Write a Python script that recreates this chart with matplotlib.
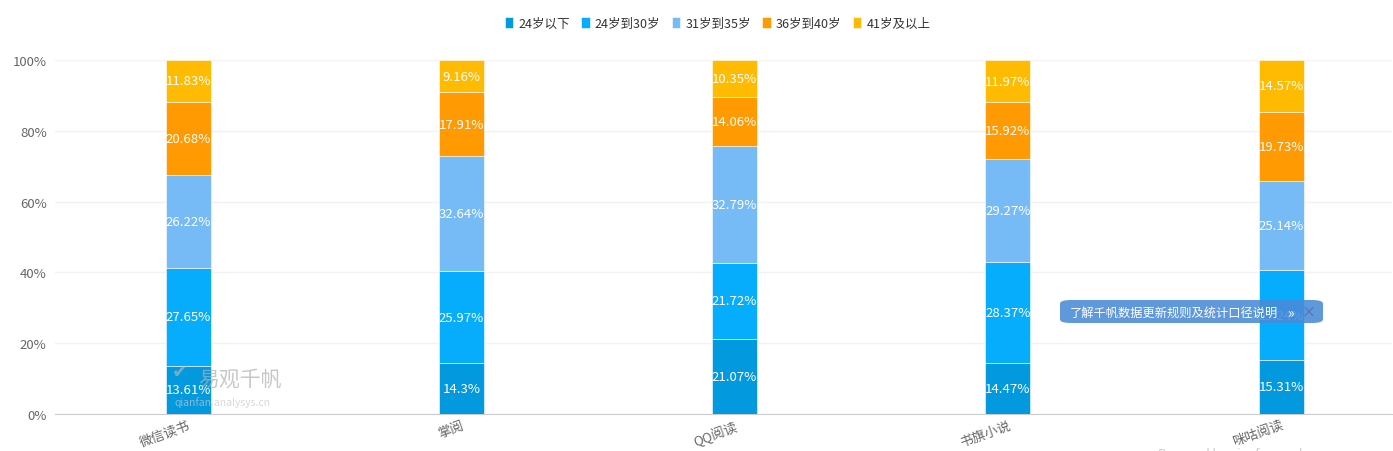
import numpy as np
import matplotlib.pyplot as plt
from matplotlib.patches import FancyBboxPatch

plt.rcParams['font.family'] = ['Noto Sans CJK SC', 'DejaVu Sans']

# Data
apps = ["微信读书", "掌阅", "QQ阅读", "书旗小说", "咪咕阅读"]
series_names = ["24岁以下", "24岁到30岁", "31岁到35岁", "36岁到40岁", "41岁及以上"]
under24 = [13.61, 14.30, 21.07, 14.47, 15.31]
age24_30 = [27.65, 25.97, 21.72, 28.37, 25.24]
age31_35 = [26.22, 32.64, 32.79, 29.27, 25.14]
age36_40 = [20.68, 17.91, 14.06, 15.92, 19.73]
over41 = [11.83, 9.16, 10.35, 11.97, 14.57]
value_labels = [
    ["13.61%", "14.3%", "21.07%", "14.47%", "15.31%"],
    ["27.65%", "25.97%", "21.72%", "28.37%", "25.24%"],
    ["26.22%", "32.64%", "32.79%", "29.27%", "25.14%"],
    ["20.68%", "17.91%", "14.06%", "15.92%", "19.73%"],
    ["11.83%", "9.16%", "10.35%", "11.97%", "14.57%"],
]
colors = ["#0399de", "#06adfd", "#76baf6", "#ff9a02", "#ffbb01"]

fig = plt.figure(figsize=(13.93, 4.52), dpi=100)
ax = fig.add_axes([55 / 1393, 1 - 415 / 452, (1392 - 55) / 1393, (415 - 61) / 452])

x = np.arange(len(apps))
all_series = [under24, age24_30, age31_35, age36_40, over41]
bottom = np.zeros(len(apps))
for i, vals in enumerate(all_series):
    vals = np.array(vals)
    ax.bar(x, vals, 0.165, bottom=bottom, color=colors[i], label=series_names[i],
           edgecolor="white", linewidth=0.4, zorder=3)
    for j in range(len(apps)):
        ax.text(x[j], bottom[j] + vals[j] / 2, value_labels[i][j], ha="center", va="center",
                color="white", fontsize=9.5, zorder=5)
    bottom = bottom + vals

ax.set_xlim(-0.487, 4.406)
ax.set_ylim(0, 100)
ax.set_yticks([0, 20, 40, 60, 80, 100])
ax.set_yticklabels(["0%", "20%", "40%", "60%", "80%", "100%"], color="#666666", fontsize=9.5)
ax.set_xticks(x)
ax.set_xticklabels(apps, rotation=20, ha="right", color="#666666", fontsize=9.5,
                   rotation_mode="anchor")
ax.tick_params(axis="y", length=0, pad=6)
ax.tick_params(axis="x", length=0, pad=3)
ax.grid(axis="y", color="#f2f2f2", linewidth=1, zorder=0)
for s in ["top", "right", "left"]:
    ax.spines[s].set_visible(False)
ax.spines["bottom"].set_color("#cccccc")

leg = fig.legend(loc="upper center", bbox_to_anchor=(0.515, 0.985), ncol=5, frameon=False,
                 fontsize=9, handlelength=0.7, handleheight=1.0, handletextpad=0.4,
                 columnspacing=0.9, labelcolor="#333333")

# watermark
fig.text(172 / 1393, 1 - 378 / 452, "✔", fontsize=14, color="#bbbbbb", alpha=0.6, zorder=10,
         family="DejaVu Sans")
fig.text(198 / 1393, 1 - 386 / 452, "易观千帆", fontsize=15, color="#b0b0b0", alpha=0.7, zorder=10)
fig.text(175 / 1393, 1 - 406 / 452, "qianfan.analysys.cn", fontsize=7.5, color="#c8c8c8", alpha=0.7, zorder=10)

# info button
btn = FancyBboxPatch((1060 / 1393, 1 - 324 / 452), 263 / 1393, 23 / 452,
                     boxstyle="round,pad=0,rounding_size=0.008", transform=fig.transFigure,
                     facecolor="#4a8ad8", alpha=0.88, edgecolor="none", zorder=20)
fig.patches.append(btn)
fig.text(1070 / 1393, 1 - 313 / 452, "了解千帆数据更新规则及统计口径说明", fontsize=8.8,
         color="white", va="center", zorder=21)
fig.text(1287 / 1393, 1 - 313 / 452, "»", fontsize=10, color="white", va="center", zorder=21)
fig.text(1302 / 1393, 1 - 313 / 452, "×", fontsize=10, color="#5570a0", va="center", zorder=21)

# cut-off footer
fig.text(1158 / 1393, 1 - 458 / 452, "Powered by qianfan.analysys", fontsize=9, color="#cccccc")

fig.savefig("out.png", dpi=100)
